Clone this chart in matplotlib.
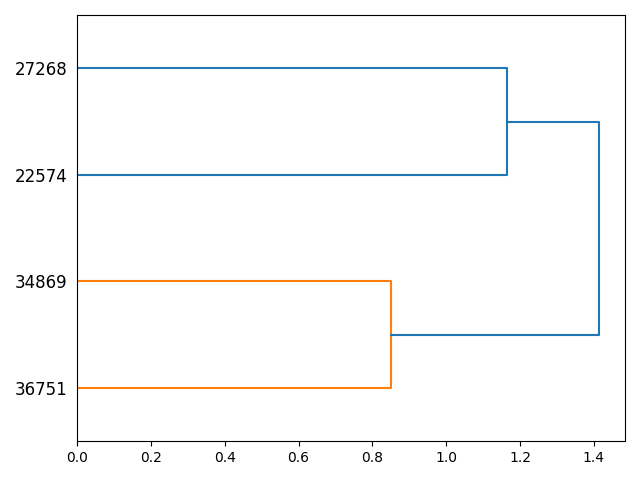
import matplotlib
matplotlib.use("Agg")
import matplotlib.pyplot as plt

# Leaves in display order (bottom to top)
leaf_labels = ["36751", "34869", "22574", "27268"]
# Merge heights (distances)
merge_low = 0.850    # 36751 + 34869
merge_high = 1.165   # 22574 + 27268
merge_root = 1.4135  # root merge

fig = plt.figure(figsize=(6.4, 4.8), dpi=100)
ax = fig.add_axes([77/640, 39/480, (625-77)/640, (441-15)/480])

ypos = [5 + 10 * i for i in range(len(leaf_labels))]

def link(ax, y1, y2, h1, h2, h, color):
    ax.plot([h1, h, h, h2], [y1, y1, y2, y2], color=color, lw=1.5)

link(ax, ypos[0], ypos[1], 0, 0, merge_low, "C1")
link(ax, ypos[2], ypos[3], 0, 0, merge_high, "C0")
mid_a = (ypos[0] + ypos[1]) / 2
mid_b = (ypos[2] + ypos[3]) / 2
link(ax, mid_a, mid_b, merge_low, merge_high, merge_root, "C0")

ax.set_ylim(0, 10 * len(leaf_labels))
ax.set_xlim(0, merge_root * 1.05)
ax.set_yticks(ypos)
ax.set_yticklabels(leaf_labels, fontsize=12)
for line in ax.get_yticklines():
    line.set_visible(False)

fig.savefig("out.png", dpi=100)
